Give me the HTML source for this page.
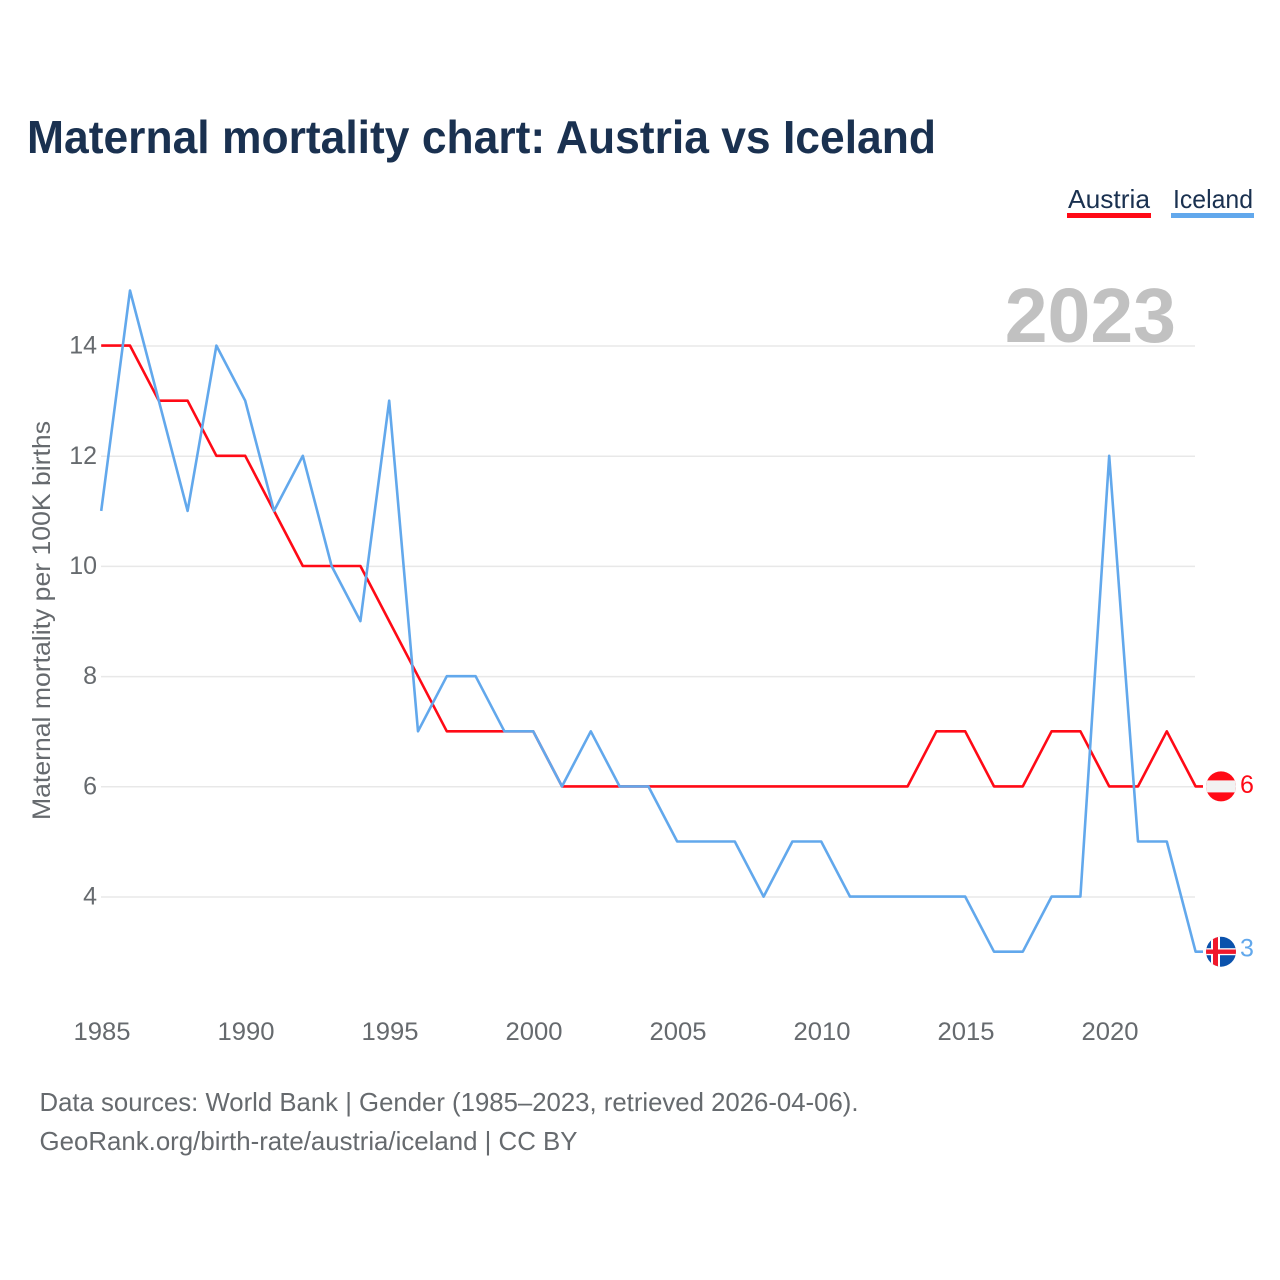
<!DOCTYPE html>
<html>
<head>
<meta charset="utf-8">
<title>Maternal mortality chart: Austria vs Iceland</title>
<style>
html,body{margin:0;padding:0;background:#fff;width:1280px;height:1280px;overflow:hidden}
svg{display:block;font-family:"Liberation Sans",sans-serif}
</style>
</head>
<body>
<svg id="chart" xmlns="http://www.w3.org/2000/svg" width="1280" height="1280" viewBox="0 0 1280 1280">
  <defs>
    <clipPath id="clip-at"><circle cx="0" cy="0" r="15"/></clipPath>
    <clipPath id="clip-is"><circle cx="0" cy="0" r="15"/></clipPath>
  </defs>
  <text x="27" y="153" font-size="46" font-weight="700" fill="#1a3150" textLength="909" lengthAdjust="spacingAndGlyphs">Maternal mortality chart: Austria vs Iceland</text>

  <g>
    <text x="1068" y="208" font-size="26" fill="#1a3150" textLength="82" lengthAdjust="spacingAndGlyphs">Austria</text>
    <rect x="1067" y="213" width="84" height="5" fill="#ff0a16"/>
  </g>
  <g>
    <text x="1173" y="208" font-size="26" fill="#1a3150" textLength="80" lengthAdjust="spacingAndGlyphs">Iceland</text>
    <rect x="1171" y="213" width="83" height="5" fill="#62a8ec"/>
  </g>

  <g id="grid"></g>
  <text x="1176" y="342" text-anchor="end" font-size="77" font-weight="700" fill="#c1c1c1">2023</text>
  <g id="yticks"></g>
  <g id="xticks"></g>
  <text transform="translate(50 820) rotate(-90)" font-size="25" fill="#666a6e" textLength="399" lengthAdjust="spacingAndGlyphs">Maternal mortality per 100K births</text>
  <g id="series"></g>
  <g id="ends"></g>

  <text x="39.5" y="1111" font-size="26" fill="#666a6e" textLength="819" lengthAdjust="spacingAndGlyphs">Data sources: World Bank | Gender (1985–2023, retrieved 2026-04-06).</text>
  <text x="39.5" y="1150" font-size="26" fill="#666a6e" textLength="538" lengthAdjust="spacingAndGlyphs">GeoRank.org/birth-rate/austria/iceland | CC BY</text>
</svg>
<script>
const years = [1985,1986,1987,1988,1989,1990,1991,1992,1993,1994,1995,1996,1997,1998,1999,2000,2001,2002,2003,2004,2005,2006,2007,2008,2009,2010,2011,2012,2013,2014,2015,2016,2017,2018,2019,2020,2021,2022,2023];
const austria = [14,14,13,13,12,12,11,10,10,10,9,8,7,7,7,7,6,6,6,6,6,6,6,6,6,6,6,6,6,7,7,6,6,7,7,6,6,7,6];
const iceland = [11,15,13,11,14,13,11,12,10,9,13,7,8,8,7,7,6,7,6,6,5,5,5,4,5,5,4,4,4,4,4,3,3,4,4,12,5,5,3];
const yTickValues = [4,6,8,10,12,14];
const xTickValues = [1985,1990,1995,2000,2005,2010,2015,2020];

const NS = 'http://www.w3.org/2000/svg';
const xScale = function (year) { return 101.2 + (year - 1985) * 28.8; };
const yScale = function (v) { return 896.6 - (v - 4) * 55.1; };
const RED = '#ff0a16';
const BLUE = '#62a8ec';

function make(tag, attrs, parent) {
  const el = document.createElementNS(NS, tag);
  for (const k in attrs) el.setAttribute(k, attrs[k]);
  parent.appendChild(el);
  return el;
}

const grid = document.getElementById('grid');
const yticks = document.getElementById('yticks');
const xticks = document.getElementById('xticks');
const seriesG = document.getElementById('series');
const ends = document.getElementById('ends');

yTickValues.forEach(function (v) {
  const line = make('line', {x1: 101, x2: 1195, y1: yScale(v) + 0.4, y2: yScale(v) + 0.4, stroke: '#e8e8e8', 'stroke-width': 1.5}, grid);
  
  
  const t = make('text', {x: 97, y: yScale(v) + 8, 'text-anchor': 'end', 'font-size': 25, fill: '#666a6e'}, yticks);
  
  
  t.textContent = v;
});

xTickValues.forEach(function (y) {
  const t = make('text', {x: xScale(y) + 0.8, y: 1040, 'text-anchor': 'middle', 'font-size': 25, fill: '#666a6e', textLength: 57, lengthAdjust: 'spacingAndGlyphs'}, xticks);
  
  
  t.textContent = y;
});

function drawLine(values, color, name) {
  let pts = values.map(function (v, i) { return xScale(years[i]) + ',' + yScale(v); });
  const last = values[values.length - 1];
  pts.push('1203,' + yScale(last));
  const p = make('polyline', {points: pts.join(' '), fill: 'none', stroke: color, 'stroke-width': 2.6, 'stroke-linejoin': 'round'}, seriesG);
  
  
}
drawLine(austria, RED, 'line-austria');
drawLine(iceland, BLUE, 'line-iceland');

// Austria end marker
const atVal = austria[austria.length - 1];
const atG = make('g', {transform: 'translate(1221 ' + yScale(atVal) + ')', 'clip-path': 'url(#clip-at)'}, ends);


make('rect', {x: -16, y: -16, width: 32, height: 32, fill: RED}, atG);
make('rect', {x: -16, y: -6, width: 32, height: 12, fill: '#f2f2f2'}, atG);
const atLabel = make('text', {x: 1240, y: yScale(atVal) + 6.5, 'font-size': 25, fill: RED}, ends);


atLabel.textContent = atVal;

// Iceland end marker
const isVal = iceland[iceland.length - 1];
const isG = make('g', {transform: 'translate(1221 ' + yScale(isVal) + ')', 'clip-path': 'url(#clip-is)'}, ends);


make('rect', {x: -16, y: -16, width: 32, height: 32, fill: '#0b52ac'}, isG);
make('rect', {x: -16, y: -3.5, width: 32, height: 7, fill: '#fff'}, isG);
make('rect', {x: -10, y: -16, width: 9, height: 32, fill: '#fff'}, isG);
make('rect', {x: -16, y: -2.2, width: 32, height: 4.4, fill: '#f0182c'}, isG);
make('rect', {x: -8, y: -16, width: 5, height: 32, fill: '#f0182c'}, isG);
const isLabel = make('text', {x: 1240, y: yScale(isVal) + 5, 'font-size': 25, fill: BLUE}, ends);


isLabel.textContent = isVal;
</script>
</body>
</html>
